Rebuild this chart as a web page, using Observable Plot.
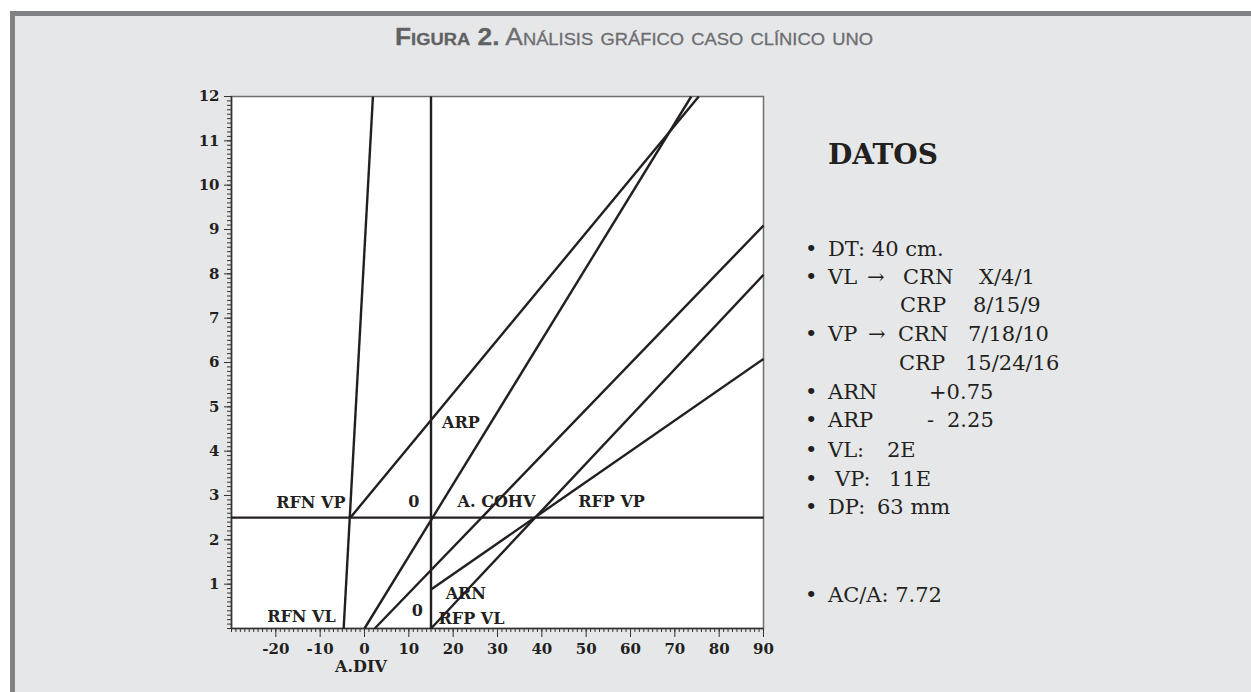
<!DOCTYPE html>
<html>
<head>
<meta charset="utf-8">
<script src="https://cdn.jsdelivr.net/npm/d3@7"></script>
<script src="https://cdn.jsdelivr.net/npm/@observablehq/plot@0.6"></script>
<style>
  html, body { margin: 0; padding: 0; background: #ffffff; }
  #page { position: relative; width: 1251px; height: 692px; overflow: hidden; background: #ffffff; }
  #panel { position: absolute; left: 10px; top: 11px; right: 0; bottom: 0; background: #e6e7e8;
           border-top: 5px solid #808285; border-left: 5px solid #808285; }
  #title { position: absolute; left: 395px; top: 26px; font-family: "Liberation Sans", Arial, sans-serif;
           font-size: 23px; line-height: 23px; font-variant: small-caps; color: #6d6e71; white-space: nowrap;
           transform-origin: left center; -webkit-text-stroke: 0.3px #6d6e71; }
  #title b { color: #5f6062; }
  #chart { position: absolute; left: 171px; top: 76px; }
  .dt { position: absolute; font-family: "DejaVu Serif", serif; font-size: 21px; line-height: 21px;
        color: #231f20; white-space: nowrap; }
  #datos { position: absolute; left: 828px; top: 141px; font-family: "DejaVu Serif", serif; font-weight: bold;
           font-size: 28px; line-height: 28px; color: #231f20; }
</style>
</head>
<body>
<div id="page">
  <div id="panel"></div>
  <div id="title"><b>Figura 2.</b> Análisis gráfico caso clínico uno</div>
  <div id="chart"></div>
  <div id="datos">DATOS</div>
</div>
<script>
// ---- Data ----
// Axis ticks
const xMajorTicks = [-20, -10, 0, 10, 20, 30, 40, 50, 60, 70, 80, 90];
const yMajorTicks = [1, 2, 3, 4, 5, 6, 7, 8, 9, 10, 11, 12];

// Straight lines of the graphical analysis (start and end points in data units)
const lineNames = ["RFN", "Demanda", "ARP", "A.DIV", "RFP", "ARN", "Demanda VP", "Acomodación VP"];
const lineX1 = [-4.7, 0, -3.2, 2.3, 15, 15, 15, -30];
const lineY1 = [0, 0, 2.5, 0, 0, 0.88, 0, 2.5];
const lineX2 = [1.9, 73.7, 75.4, 90, 90, 90, 15, 90];
const lineY2 = [12, 12, 12, 9.09, 7.98, 6.08, 12, 2.5];

// Labels inside the chart
const labelText = ["RFN VP", "0", "A. COHV", "RFP VP", "ARP", "ARN", "0", "RFP VL", "RFN VL", "A.DIV"];
const labelX = [-4.3, 11.1, 21.0, 48.2, 17.5, 18.3, 11.9, 16.7, -6.5, -0.8];
const labelY = [2.71, 2.73, 2.75, 2.73, 4.53, 0.66, 0.28, 0.11, 0.15, -0.99];
const labelAnchor = ["end", "middle", "start", "start", "start", "start", "middle", "start", "end", "middle"];

// DATOS panel rows: baseline, bullet, [text, left]
const datosBaseline = [256.7, 285, 313.3, 341.7, 370.7, 400, 428.3, 458.3, 486.7, 515, 602.7];
const datosBullet = [true, true, false, true, false, true, true, true, true, true, true];
const datosSegments = [
  [["DT: 40 cm.", 828]],
  [["VL", 828], ["→", 867], ["CRN", 903], ["X/4/1", 979]],
  [["CRP", 900], ["8/15/9", 973]],
  [["VP", 828], ["→", 868], ["CRN", 898], ["7/18/10", 968]],
  [["CRP", 899], ["15/24/16", 965]],
  [["ARN", 828], ["+0.75", 929]],
  [["ARP", 828], ["-", 927], ["2.25", 947]],
  [["VL:", 828], ["2E", 887]],
  [["VP:", 835], ["11E", 889]],
  [["DP:", 828], ["63 mm", 877]],
  [["AC/A: 7.72", 828]]
];

// ---- Build tables ----
const lines = lineNames.map((name, i) => ({name, x1: lineX1[i], y1: lineY1[i], x2: lineX2[i], y2: lineY2[i]}));
const labels = labelText.map((t, i) => ({t, x: labelX[i], y: labelY[i], a: labelAnchor[i]}));
const xMinor = d3.range(-30, 91);
const yMinor = d3.range(0, 121).map(i => i / 10);

const ink = "#231f20";
const serif = "DejaVu Serif, serif";

const labelMarks = ["start", "middle", "end"].map(a =>
  Plot.text(labels.filter(d => d.a === a), {
    x: "x", y: "y", text: "t", textAnchor: a, lineAnchor: "bottom",
    fontWeight: "bold", fontSize: 16, fontFamily: serif, fill: ink
  })
);

const chart = Plot.plot({
  width: 612,
  height: 612,
  marginLeft: 60,
  marginRight: 20,
  marginTop: 20,
  marginBottom: 60,
  x: {domain: [-30, 90], label: null},
  y: {domain: [0, 12], label: null},
  style: {background: "transparent", fontFamily: serif, fontSize: "15px", color: ink, overflow: "visible"},
  marks: [
    Plot.frame({fill: "white", stroke: "#6d6e71", strokeWidth: 1.5}),
    Plot.axisX(xMinor, {tickSize: 4, tickFormat: () => "", stroke: "#333", strokeWidth: 1, label: null}),
    Plot.axisX(xMajorTicks, {tickSize: 9, tickPadding: 6, tickFormat: d => String(d), stroke: "#333",
      fontWeight: "bold", fontSize: 15, fill: ink, label: null}),
    Plot.axisY(yMinor, {tickSize: 4, tickFormat: () => "", stroke: "#333", strokeWidth: 1, label: null}),
    Plot.axisY(yMajorTicks, {tickSize: 7, tickPadding: 5, tickFormat: d => String(d), stroke: "#333",
      fontWeight: "bold", fontSize: 15, fill: ink, label: null}),
    Plot.ruleY([0], {stroke: "#333", strokeWidth: 1.5}),
    Plot.ruleX([-30], {stroke: "#333", strokeWidth: 1.5}),
    Plot.link(lines, {x1: "x1", y1: "y1", x2: "x2", y2: "y2", stroke: ink, strokeWidth: 2.4}),
    ...labelMarks
  ]
});
document.getElementById("chart").appendChild(chart);

// DATOS list
const page = document.getElementById("page");
const fs = 21;
datosBaseline.forEach((b, i) => {
  const top = b - 0.85 * fs;
  if (datosBullet[i]) {
    const s = document.createElement("div");
    s.className = "dt";
    s.textContent = "•";
    s.style.left = "805px";
    s.style.top = top + "px";
    page.appendChild(s);
  }
  datosSegments[i].forEach(([t, left]) => {
    const s = document.createElement("div");
    s.className = "dt";
    s.textContent = t;
    s.style.left = left + "px";
    s.style.top = top + "px";
    page.appendChild(s);
  });
});

// fit title width to reference (395..873)
const title = document.getElementById("title");
const w = title.getBoundingClientRect().width;
title.style.transform = `scaleX(${478 / w})`;
</script>
</body>
</html>
